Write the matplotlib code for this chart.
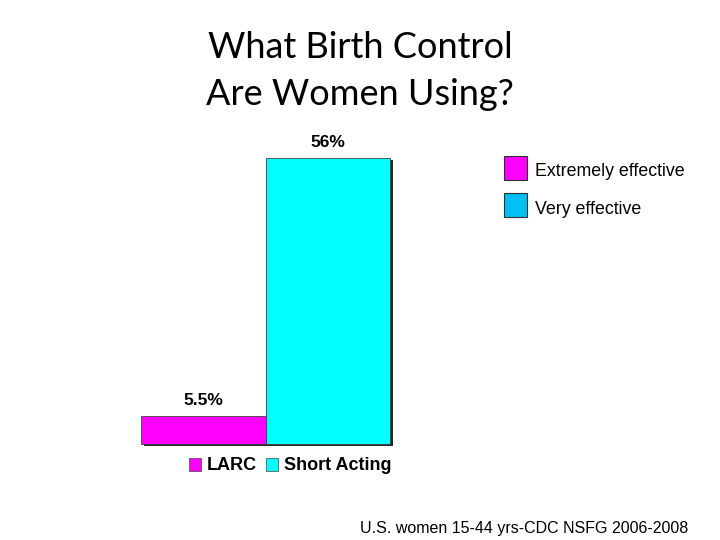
import matplotlib
matplotlib.use("Agg")
import matplotlib.pyplot as plt
import matplotlib.patheffects as pe
from matplotlib.patches import Rectangle

categories = ["LARC", "Short Acting"]
values = [5.5, 56]
value_labels = ["5.5%", "56%"]
bar_colors = ["#FF00FF", "#00FFFF"]

side_labels = ["Extremely effective", "Very effective"]
side_colors = ["#FF00FF", "#00BFF3"]

title = "What Birth Control\nAre Women Using?"
footnote = "U.S. women 15-44 yrs-CDC NSFG 2006-2008"

plt.rcParams['font.family'] = ['Liberation Sans', 'DejaVu Sans']

fig = plt.figure(figsize=(7.2, 5.4), dpi=100)
ax = fig.add_axes([141 / 720, 1 - 444 / 540, 249 / 720, 286 / 540])

xs = range(len(categories))
bars = ax.bar(xs, values, width=1.0, color=bar_colors,
              edgecolor="#404040", linewidth=0.6, label=categories)
for b in bars:
    b.set_clip_on(False)
    b.set_path_effects([pe.SimplePatchShadow(offset=(2, -1.5), shadow_rgbFace="black", alpha=0.85),
                        pe.Normal()])

for x, v, t in zip(xs, values, value_labels):
    ax.annotate(t, (x, v), xytext=(0, 6), textcoords="offset points",
                ha="center", va="bottom", fontsize=12.5, fontweight="bold")

ax.set_xlim(-0.5, 1.5)
ax.set_ylim(0, 56)
ax.set_xticks([])
ax.set_yticks([])
for s in ax.spines.values():
    s.set_visible(False)

handles = [Rectangle((0, 0), 1, 1, facecolor=c, edgecolor="#404040", linewidth=0.5) for c in bar_colors]
fig.legend(handles, categories, loc="center", bbox_to_anchor=(290 / 720, 1 - 466 / 540),
           ncol=2, frameon=False, prop={"weight": "bold", "size": 13},
           handlelength=0.7, handleheight=0.7, handletextpad=0.3, columnspacing=0.5)

# side legend
for i, (lab, col) in enumerate(zip(side_labels, side_colors)):
    y = 1 - (168 + 37 * i) / 540
    fig.patches.append(Rectangle((504 / 720, y - 12 / 540), 23 / 720, 24 / 540,
                                 transform=fig.transFigure, facecolor=col,
                                 edgecolor="#303030", linewidth=0.8))
    fig.text(535 / 720, y - 4 / 540, lab, ha="left", va="center", fontsize=12.8)

fig.text(360 / 720, 1 - 71 / 540, title, ha="center", va="center",
         fontsize=26, family=["Lato", "DejaVu Sans"], linespacing=1.5)
fig.text(688 / 720, 1 - 529 / 540, footnote, ha="right", va="center", fontsize=11.5)

fig.savefig("out.png", dpi=100)
